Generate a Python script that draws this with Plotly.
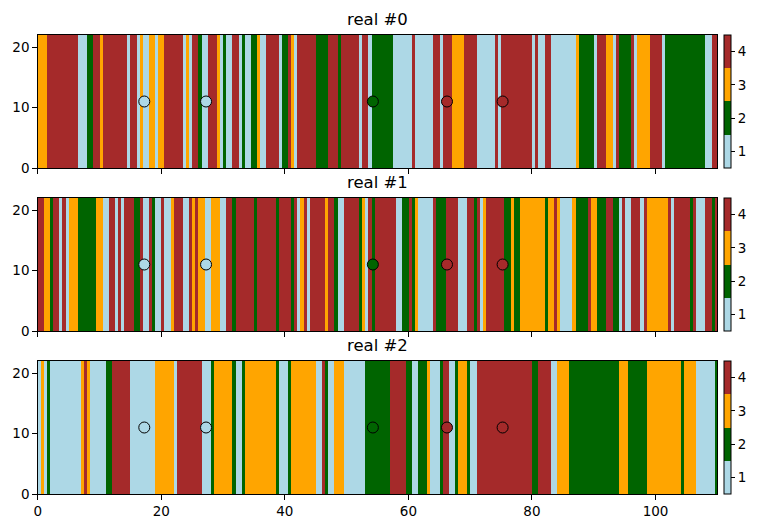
import plotly.graph_objects as go

# facies categories: 1 lightblue, 2 darkgreen, 3 orange, 4 brown
colors = ["#add8e6", "#006400", "#ffa500", "#a52a2a"]
cat_ticks = [1, 2, 3, 4]
titles = ["real #0", "real #1", "real #2"]
cell_dx = 0.5
y_top = 22

# run-length encoded realizations: (category, number of cells)
real0_runs = [(3,3),(4,10),(1,3),(2,2),(4,2),(3,1),(4,8),(1,1),(4,2),(1,1),(3,1),(1,2),(3,2),(1,1),(3,2),
              (4,6),(1,1),(3,1),(1,1),(4,2),(2,1),(1,2),(4,3),(3,1),(1,1),(2,1),(1,2),(4,2),(1,1),(2,1),
              (1,2),(2,2),(3,1),(1,2),(4,4),(1,1),(2,2),(4,1),(3,1),(1,1),(4,6),(2,4),(4,3),(2,1),(4,6),
              (1,1),(4,2),(1,1),(2,7),(1,6),(4,1),(1,6),(4,2),(1,1),(4,3),(3,4),(4,4),(1,6),(4,1),(1,1),
              (4,10),(1,1),(4,1),(1,2),(4,2),(1,8),(3,1),(2,5),(1,1),(4,3),(3,2),(1,1),(4,1),(2,4),(4,1),
              (1,1),(3,4),(4,4),(1,1),(2,13),(1,2),(4,2)]
real1_runs = [(4,2),(3,2),(2,1),(4,2),(1,1),(4,1),(1,1),(3,3),(2,6),(3,2),(1,2),(4,2),(1,1),(4,1),(1,1),
              (4,3),(2,2),(4,1),(1,2),(4,1),(2,1),(1,2),(4,1),(1,2),(3,1),(4,3),(1,2),(4,1),(3,1),(4,1),
              (3,2),(1,2),(3,3),(1,2),(4,2),(2,1),(4,6),(2,1),(4,6),(2,1),(4,4),(2,1),(4,1),(1,1),(3,1),
              (4,1),(1,1),(4,5),(3,1),(4,2),(2,1),(1,2),(4,5),(2,1),(3,1),(1,1),(4,1),(2,1),(4,7),(1,2),
              (2,2),(4,1),(2,1),(3,1),(1,5),(4,1),(2,3),(4,4),(1,3),(4,2),(2,1),(4,1),(1,1),(3,1),(4,6),
              (2,2),(3,1),(2,2),(3,8),(2,1),(3,2),(4,1),(3,1),(1,4),(3,1),(2,4),(4,1),(3,2),(2,3),(4,2),
              (2,2),(1,1),(4,1),(1,2),(4,3),(1,1),(4,1),(3,7),(4,1),(1,1),(4,5),(2,1),(4,1),(1,3),(4,2),
              (2,1),(4,1)]
real2_runs = [(1,1),(3,1),(1,1),(2,1),(1,10),(3,1),(4,1),(3,1),(1,5),(2,2),(4,6),(1,8),(3,6),(1,1),(4,8),
              (1,3),(2,1),(3,6),(2,1),(1,2),(2,1),(3,10),(2,1),(1,3),(2,1),(3,8),(1,2),(4,1),(2,1),(1,2),
              (3,3),(1,7),(2,8),(4,5),(2,2),(1,2),(2,3),(3,1),(1,3),(2,1),(4,2),(1,2),(2,1),(3,3),(2,1),
              (1,2),(4,18),(2,2),(4,4),(1,2),(3,4),(2,16),(3,3),(2,6),(3,11),(2,1),(3,4),(1,6),(2,1)]

well_x = [17.25, 27.25, 54.25, 66.25, 75.25]
well_y = [11, 11, 11, 11, 11]

all_runs = [real0_runs, real1_runs, real2_runs]

def expand(runs):
    out = []
    for c, n in runs:
        out += [c] * n
    return out

W, H = 758, 528
L, R = 37.7, 717.3
rows_px = [(35, 168), (198, 331), (361, 494)]

colorscale = []
for i, c in enumerate(colors):
    colorscale += [[i / 4, c], [(i + 1) / 4, c]]

fig = go.Figure()
font = dict(family="DejaVu Sans", color="black")
annotations = []
for k, runs in enumerate(all_runs):
    cells = expand(runs)
    top, bot = rows_px[k]
    y0, y1 = 1 - bot / H, 1 - top / H
    xa = "x" if k == 0 else f"x{k+1}"
    ya = "y" if k == 0 else f"y{k+1}"
    fig.add_trace(go.Heatmap(
        z=[cells], x0=cell_dx / 2, dx=cell_dx, y=[0, y_top],
        zmin=0.5, zmax=4.5, colorscale=colorscale, xaxis=xa, yaxis=ya,
        colorbar=dict(x=724.3 / W, xanchor="left", xpad=0, ypad=0,
                      y=(y0 + y1) / 2, yanchor="middle", len=y1 - y0, lenmode="fraction",
                      thickness=6.5, thicknessmode="pixels",
                      outlinecolor="black", outlinewidth=1,
                      tickvals=cat_ticks, ticktext=[str(t) for t in cat_ticks],
                      ticks="outside", ticklen=4, tickcolor="black",
                      tickfont=dict(size=13.5, **font)),
        hoverinfo="skip"))
    mcols = [colors[cells[int(x / cell_dx)] - 1] for x in well_x]
    fig.add_trace(go.Scatter(
        x=well_x, y=well_y, mode="markers", xaxis=xa, yaxis=ya,
        marker=dict(size=11, color=mcols, line=dict(color="black", width=1)),
        showlegend=False, hoverinfo="skip"))
    axis_common = dict(showline=True, mirror=True, linecolor="black", linewidth=1,
                       ticks="outside", ticklen=4.5, tickcolor="black", tickwidth=1,
                       showgrid=False, zeroline=False, automargin=False,
                       tickfont=dict(size=13.5, **font))
    fig.layout[("xaxis" if k == 0 else f"xaxis{k+1}")] = dict(
        domain=[L / W, R / W], anchor=ya, range=[0, 110],
        tickvals=[0, 20, 40, 60, 80, 100], showticklabels=(k == 2), **axis_common)
    fig.layout[("yaxis" if k == 0 else f"yaxis{k+1}")] = dict(
        domain=[y0, y1], anchor=xa, range=[0, y_top],
        tickvals=[0, 10, 20], **axis_common)
    annotations.append(dict(text=titles[k], x=(L + R) / 2 / W, y=y1, xref="paper", yref="paper",
                            xanchor="center", yanchor="bottom", yshift=4, showarrow=False,
                            font=dict(size=16.5, **font)))

fig.update_layout(width=W, height=H, margin=dict(l=0, r=0, t=0, b=0),
                  plot_bgcolor="white", paper_bgcolor="white",
                  annotations=annotations, showlegend=False)
fig.write_html("out.html")
